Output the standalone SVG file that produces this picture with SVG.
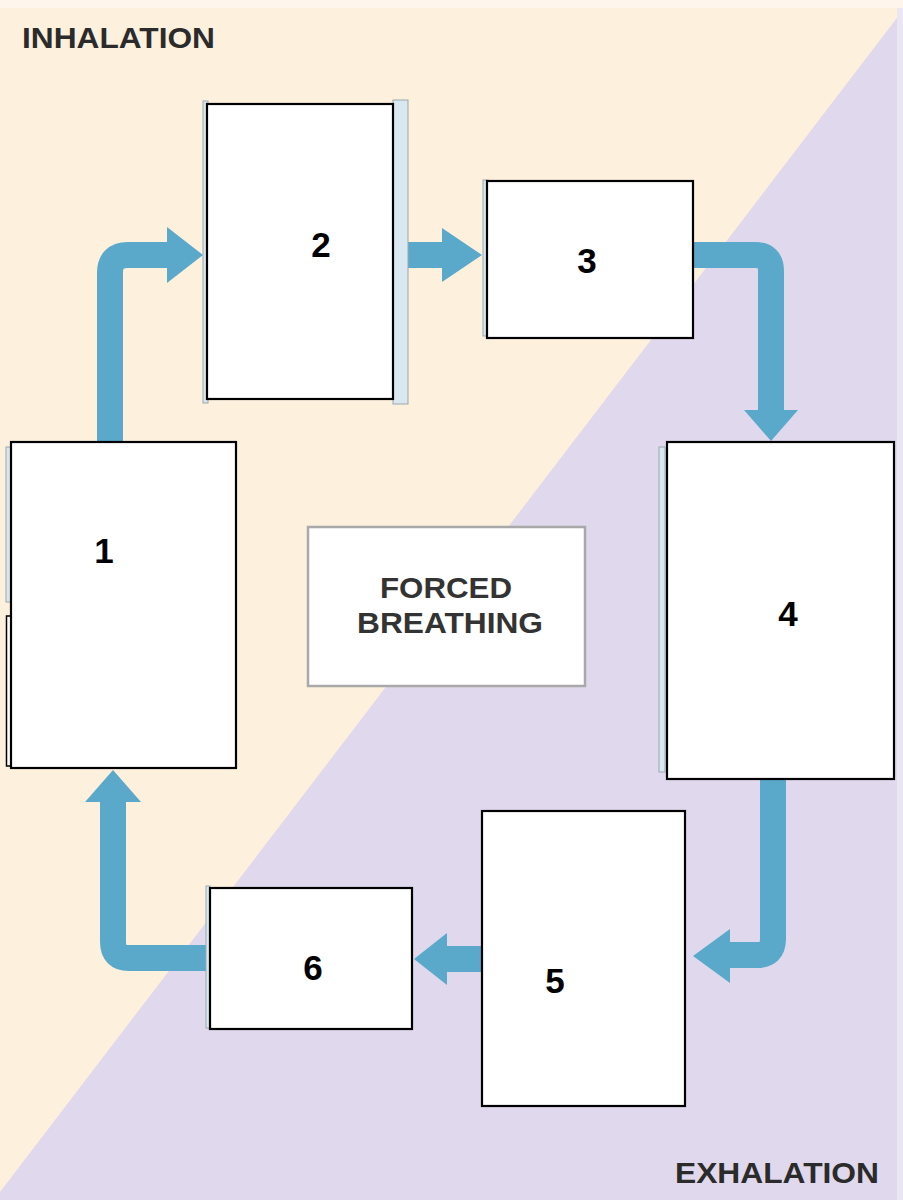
<svg xmlns="http://www.w3.org/2000/svg" width="903" height="1200" viewBox="0 0 903 1200">
  <style>
    .box { fill: #ffffff; stroke: #000000; stroke-width: 2.2; }
    .ghost { fill: #d9e8f0; stroke: #9aa7ad; stroke-width: 1; }
    .num { font-family: "Liberation Sans", Arial, sans-serif; font-weight: bold; font-size: 35px; fill: #000000; text-anchor: middle; }
    .phase { font-family: "Liberation Sans", Arial, sans-serif; font-weight: bold; font-size: 30px; fill: #2b2b2b; }
    .center { font-family: "Liberation Sans", Arial, sans-serif; font-weight: bold; font-size: 30px; fill: #333333; text-anchor: middle; }
    .shaft { fill: none; stroke: #5aa9cb; stroke-width: 26; stroke-linejoin: round; }
    .head { fill: #5aa9cb; }
  </style>

  <!-- background -->
  <rect x="0" y="0" width="903" height="1200" fill="#fdf1de"/>
  <polygon points="903,10 903,1200 0,1200 0,1192" fill="#e0d8ec"/>
  <rect x="0" y="0" width="903" height="8" fill="#fef6ec"/>
  <rect x="897" y="8" width="6" height="1192" fill="#ebe6f3"/>

  <g id="phase-labels">
    <text class="phase" x="22" y="48" textLength="193" lengthAdjust="spacingAndGlyphs">INHALATION</text>
    <text class="phase" x="879" y="1183" text-anchor="end" textLength="204" lengthAdjust="spacingAndGlyphs">EXHALATION</text>
  </g>

  <!-- connectors -->
  <g id="connectors">
    <!-- 1 -> 2 -->
    <path class="shaft" d="M110,444 V273 Q110,255 128,255 H170"/>
    <polygon class="head" points="167,227 203,255 167,283"/>
    <!-- 2 -> 3 -->
    <path class="shaft" d="M405,255 H445"/>
    <polygon class="head" points="442,228 482,255 442,282"/>
    <!-- 3 -> 4 -->
    <path class="shaft" d="M692,255 H755 Q771,255 771,271 V413"/>
    <polygon class="head" points="744,410 798,410 771,441"/>
    <!-- 4 -> 5 -->
    <path class="shaft" d="M773,778 V939 Q773,955 757,955 H727"/>
    <polygon class="head" points="730,929 730,983 693,956"/>
    <!-- 5 -> 6 -->
    <path class="shaft" d="M483,959 H444"/>
    <polygon class="head" points="447,933 447,985 414,959"/>
    <!-- 6 -> 1 -->
    <path class="shaft" d="M211,958 H129 Q113,958 113,942 V799"/>
    <polygon class="head" points="85,802 141,802 113,770"/>
  </g>

  <g id="node-1">
    <rect class="ghost" x="6" y="447" width="5" height="155"/>
    <rect x="6.5" y="616" width="5" height="150" fill="#ffffff" stroke="#000000" stroke-width="1.5"/>
    <rect class="box" x="11" y="442" width="225" height="326"/>
    <text class="num" x="104" y="563">1</text>
  </g>

  <g id="node-2">
    <rect class="ghost" x="203" y="101" width="5" height="302"/>
    <rect class="ghost" x="393" y="100" width="15" height="304"/>
    <rect class="box" x="207" y="104" width="186" height="295"/>
    <text class="num" x="321" y="257">2</text>
  </g>

  <g id="node-3">
    <rect class="ghost" x="483" y="180" width="5" height="156"/>
    <rect class="box" x="487" y="181" width="206" height="157"/>
    <text class="num" x="587" y="273">3</text>
  </g>

  <g id="node-4">
    <rect class="ghost" x="659" y="447" width="6" height="325"/>
    <rect class="box" x="667" y="442" width="227" height="337"/>
    <text class="num" x="788" y="626">4</text>
  </g>

  <g id="node-5">
    <rect class="box" x="482" y="811" width="203" height="295"/>
    <text class="num" x="555" y="993">5</text>
  </g>

  <g id="node-6">
    <rect class="ghost" x="206" y="886" width="4" height="142"/>
    <rect class="box" x="210" y="888" width="202" height="141"/>
    <text class="num" x="313" y="980">6</text>
  </g>

  <g id="node-center">
    <rect x="308" y="527" width="277" height="159" fill="#ffffff" stroke="#a9a9a9" stroke-width="2.5"/>
    <text class="center" x="446" y="598" textLength="132" lengthAdjust="spacingAndGlyphs">FORCED</text>
    <text class="center" x="450" y="633" textLength="186" lengthAdjust="spacingAndGlyphs">BREATHING</text>
  </g>
</svg>
